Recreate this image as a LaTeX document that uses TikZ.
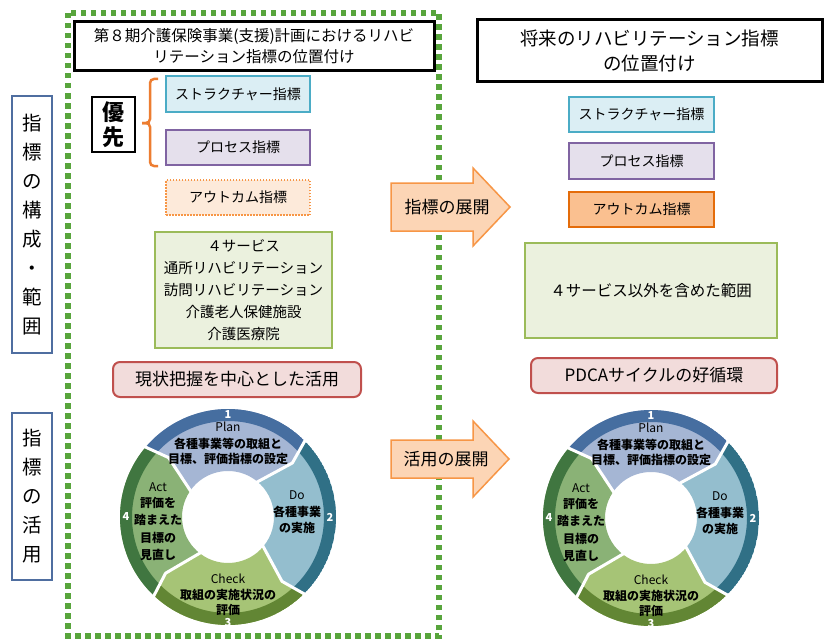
\documentclass[tikz,border=0pt]{standalone}
\usepackage{fontspec}
\setmainfont{Noto Sans CJK JP}
\newcommand{\myfs}[2]{\fontsize{#1}{#2}\selectfont}
\definecolor{dotgreen}{RGB}{88,165,60}
\definecolor{cyanfill}{RGB}{219,238,244}
\definecolor{cyanline}{RGB}{75,172,198}
\definecolor{lavfill}{RGB}{229,224,236}
\definecolor{lavline}{RGB}{128,100,162}
\definecolor{peachfill}{RGB}{253,234,218}
\definecolor{orangeline}{RGB}{247,150,70}
\definecolor{outcfill}{RGB}{250,192,144}
\definecolor{outcline}{RGB}{228,108,10}
\definecolor{greenfill}{RGB}{235,241,222}
\definecolor{greenline}{RGB}{155,187,89}
\definecolor{redfill}{RGB}{242,220,219}
\definecolor{redline}{RGB}{192,80,77}
\definecolor{arrowfill}{RGB}{252,213,181}
\definecolor{sideline}{RGB}{79,110,160}
\definecolor{bracecol}{RGB}{237,125,49}
\definecolor{planlight}{RGB}{165,182,212}
\definecolor{planring}{RGB}{70,110,160}
\definecolor{dolight}{RGB}{148,190,206}
\definecolor{doring}{RGB}{48,112,134}
\definecolor{checklight}{RGB}{166,196,118}
\definecolor{checkring}{RGB}{98,134,52}
\definecolor{actlight}{RGB}{138,178,118}
\definecolor{actring}{RGB}{64,118,64}
\newcommand{\pdcaseg}[4]{%
  \path[fill=#3] (#1:108) arc[start angle=#1, end angle=#2, radius=108]
    -- ({#2-5}:84) -- ({#2+6}:46) arc[start angle={#2+6}, end angle={#1+6}, radius=46]
    -- ({#1-5}:84) -- cycle;
  \begin{scope}
    \clip (#1:108) arc[start angle=#1, end angle=#2, radius=108]
      -- ({#2-5}:84) -- ({#2+6}:46) arc[start angle={#2+6}, end angle={#1+6}, radius=46]
      -- ({#1-5}:84) -- cycle;
    \fill[#4, even odd rule] (0,0) circle[radius=108] (0,0) circle[radius=96];
  \end{scope}}
\tikzset{
  titlebox/.style={draw=black, line width=3pt, fill=white, align=center, inner sep=0pt},
  idxbox/.style={line width=2pt, inner sep=0pt, minimum width=144pt, minimum height=35pt, font=\myfs{14}{16}},
  structbox/.style={idxbox, fill=cyanfill, draw=cyanline},
  procbox/.style={idxbox, fill=lavfill, draw=lavline},
  outcdot/.style={idxbox, fill=peachfill, draw=orangeline, line width=1.5pt, dash pattern=on 1.5pt off 1.5pt},
  outcbox/.style={idxbox, fill=outcfill, draw=outcline},
  rangebox/.style={fill=greenfill, draw=greenline, line width=2.5pt, inner sep=0pt, align=center},
  usebox/.style={fill=redfill, draw=redline, line width=2pt, rounded corners=7pt, inner sep=0pt, font=\myfs{17}{17}},
  sidebox/.style={draw=sideline, line width=2pt, fill=white, inner sep=0pt, minimum width=40pt, align=center, font=\myfs{19.5}{29}},
  arrowshape/.style={fill=arrowfill, draw=orangeline, line width=1.5pt, line join=miter},
  pdcanum/.style={text=white, font=\bfseries\myfs{11}{11}, inner sep=0pt},
  pdcahead/.style={font=\myfs{12}{14}, inner sep=0pt},
  pdcatext/.style={font=\bfseries\myfs{12}{16.5}, align=center, inner sep=0pt},
  pdca/.pic={
    \pdcaseg{140}{45}{planlight}{planring}
    \pdcaseg{45}{-45}{dolight}{doring}
    \pdcaseg{-45}{-133}{checklight}{checkring}
    \pdcaseg{227}{140}{actlight}{actring}
    \foreach \t in {140,45,-45,-133}
      \draw[white, line width=3pt, line join=round] (\t:110) -- ({\t-5}:84) -- ({\t+6}:44);
    \node[pdcanum] (-n1) at (90:102) {1};
    \node[pdcanum] (-n2) at (0:102) {2};
    \node[pdcanum] (-n3) at (-90:106) {3};
    \node[pdcanum] (-n4) at (180:102) {4};
    \node[pdcahead] (-plan) at (0,90) {Plan};
    \node[pdcatext, font=\bfseries\myfs{12}{15}] (-plant) at (0,66) {各種事業等の取組と\\目標、評価指標の設定};
    \node[pdcahead] (-do) at (69,22) {Do};
    \node[pdcatext, font=\bfseries\myfs{12}{16}] (-dot) at (69,-2.5) {各種事業\\の実施};
    \node[pdcahead] (-check) at (0,-62) {Check};
    \node[pdcatext, font=\bfseries\myfs{12}{15.5}] (-checkt) at (0,-85.5) {取組の実施状況の\\評価};
    \node[pdcahead] (-act) at (-70,30) {Act};
    \node[pdcatext, font=\bfseries\myfs{12}{17.3}] (-actt) at (-70,-12) {評価を\\踏まえた\\目標の\\見直し};
  }
}
\begin{document}
\begin{tikzpicture}[x=1pt,y=-1pt]
\useasboundingbox (0,0) rectangle (825,642);
\fill[white] (0,0) rectangle (825,642);
% dotted green frame
\draw[dotgreen, line width=5.5pt, dash pattern=on 5.5pt off 4.5pt] (68,13) rectangle (439,636);
% side labels
\node[sidebox, minimum height=257pt] (side1) at (32,224.5) {指\\標\\の\\構\\成\\・\\範\\囲};
\node[sidebox, minimum height=167pt] (side2) at (32,496.5) {指\\標\\の\\活\\用};
% titles
\node[titlebox, minimum width=360pt, minimum height=49pt, font=\myfs{15.5}{21}] (ltitle) at (254,46.5) {第８期介護保険事業(支援)計画におけるリハビ\\リテーション指標の位置付け};
\node[titlebox, minimum width=345pt, minimum height=62pt, font=\myfs{18.5}{25}] (rtitle) at (649.5,51) {将来のリハビリテーション指標\\の位置付け};
% priority
\node[draw=black, line width=2.5pt, minimum width=43pt, minimum height=55pt, inner sep=0pt, align=center, font=\bfseries\myfs{22}{25}] (prio) at (113.5,124.5) {優\\先};
\draw[bracecol, line width=2.5pt, rounded corners=4pt] (158,79) -- (150,79) -- (150,123) -- (142,123);
\draw[bracecol, line width=2.5pt, rounded corners=4pt] (142,123) -- (150,123) -- (150,166) -- (158,166);
% left index boxes
\node[structbox] (lstruct) at (238,94) {ストラクチャー指標};
\node[procbox] (lproc) at (238,147.5) {プロセス指標};
\node[outcdot] (loutc) at (238,197.5) {アウトカム指標};
\node[rangebox, minimum width=177pt, minimum height=116pt, font=\myfs{14.5}{22}] (lrange) at (243.5,290) {４サービス\\通所リハビリテーション\\訪問リハビリテーション\\介護老人保健施設\\介護医療院};
\node[usebox, minimum width=248pt, minimum height=35pt] (luse) at (237,379.5) {現状把握を中心とした活用};
% right index boxes
\node[structbox, minimum width=145pt] (rstruct) at (641.5,114.5) {ストラクチャー指標};
\node[procbox, minimum width=145pt, minimum height=36pt] (rproc) at (641.5,161) {プロセス指標};
\node[outcbox, minimum width=145pt] (routc) at (641.5,209.5) {アウトカム指標};
\node[rangebox, minimum width=252pt, minimum height=95pt, font=\myfs{15.5}{18}] (rrange) at (651,290.5) {４サービス以外を含めた範囲};
\node[usebox, minimum width=246pt, minimum height=35pt] (ruse) at (654,375.5) {PDCAサイクルの好循環};
% arrows
\draw[arrowshape] (391,183) -- (473,183) -- (473,168) -- (510,207) -- (473,246) -- (473,231) -- (391,231) -- cycle;
\node[font=\myfs{17}{17}, inner sep=0pt] (arr1) at (447,207) {指標の展開};
\draw[arrowshape] (391,440) -- (473,440) -- (473,421) -- (509,459) -- (473,497) -- (473,478) -- (391,478) -- cycle;
\node[font=\myfs{17}{17}, inner sep=0pt] (arr2) at (446,459) {活用の展開};
% PDCA cycles
\begin{scope}[shift={(228,517)}, y=1pt]
  \pic (L) {pdca};
\end{scope}
\begin{scope}[shift={(651,518)}, y=1pt]
  \pic (R) {pdca};
\end{scope}
\end{tikzpicture}
\end{document}
